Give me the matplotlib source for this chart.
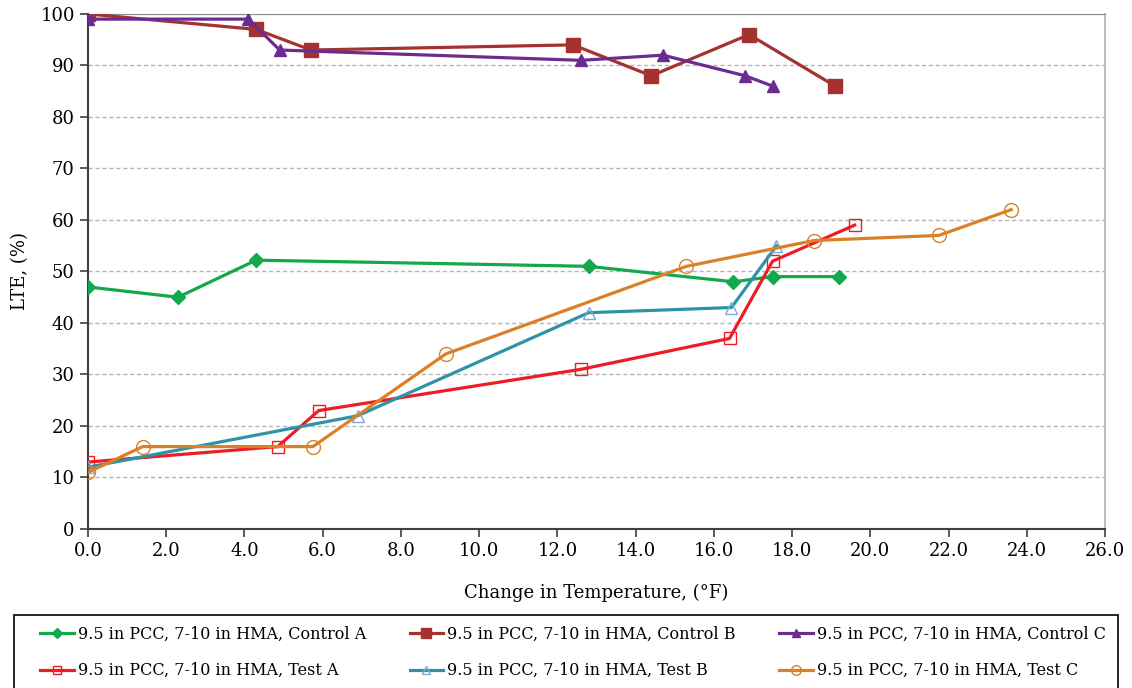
import matplotlib
matplotlib.use("Agg")
import matplotlib.pyplot as plt
from matplotlib.patches import Rectangle

plt.rcParams["font.family"] = ["DejaVu Serif"]

# Change in temperature (F) and LTE (%) per section
ctrl_a_x = [0.0, 2.3, 4.3, 12.8, 16.5, 17.5, 19.2]
ctrl_a_y = [47, 45, 52.2, 51, 48, 49, 49]
ctrl_b_x = [0.0, 4.3, 5.7, 12.4, 14.4, 16.9, 19.1]
ctrl_b_y = [100, 97, 93, 94, 88, 96, 86]
ctrl_c_x = [0.0, 4.1, 4.9, 12.6, 14.7, 16.8, 17.5]
ctrl_c_y = [99, 99, 93, 91, 92, 88, 86]
test_a_x = [0.0, 4.85, 5.9, 12.6, 16.4, 17.5, 19.6]
test_a_y = [13, 16, 23, 31, 37, 52, 59]
test_b_x = [0.0, 6.9, 12.8, 16.45, 17.6]
test_b_y = [12, 22, 42, 43, 55]
test_c_x = [0.0, 1.4, 5.75, 9.15, 15.3, 18.55, 21.75, 23.6]
test_c_y = [11, 16, 16, 34, 51, 56, 57, 62]

labels = ["9.5 in PCC, 7-10 in HMA, Control A", "9.5 in PCC, 7-10 in HMA, Control B",
          "9.5 in PCC, 7-10 in HMA, Control C", "9.5 in PCC, 7-10 in HMA, Test A",
          "9.5 in PCC, 7-10 in HMA, Test B", "9.5 in PCC, 7-10 in HMA, Test C"]
xticks = [i * 2.0 for i in range(14)]
yticks = list(range(0, 101, 10))

fig = plt.figure(figsize=(11.32, 6.88), dpi=100)
ax = fig.add_axes([0.0777, 0.2311, 0.8985, 0.7486])

lw = 2.3
h = []
h += ax.plot(ctrl_a_x, ctrl_a_y, "-D", color="#12a84b", lw=lw, ms=7, label=labels[0], zorder=3)
h += ax.plot(ctrl_b_x, ctrl_b_y, "-s", color="#a5322f", lw=lw, ms=9.5, label=labels[1], zorder=3)
h += ax.plot(ctrl_c_x, ctrl_c_y, "-^", color="#6a2c91", lw=lw, ms=9, label=labels[2], zorder=3)
h += ax.plot(test_a_x, test_a_y, "-s", color="#ee1c25", lw=lw, ms=9, mfc="none",
             mec="#ee1c25", mew=1.0, label=labels[3], zorder=3)
h += ax.plot(test_b_x, test_b_y, "-^", color="#2e93a8", lw=lw, ms=9, mfc="none",
             mec="#7ca7d8", mew=1.0, label=labels[4], zorder=3)
h += ax.plot(test_c_x, test_c_y, "-o", color="#da8127", lw=lw, ms=10, mfc="none",
             mec="#da8127", mew=1.0, label=labels[5], zorder=3)

ax.set_xlim(0, 26)
ax.set_ylim(0, 100)
ax.set_xticks(xticks)
ax.set_xticklabels([f"{v:.1f}" for v in xticks])
ax.set_yticks(yticks)
ax.tick_params(axis="both", labelsize=13, length=6, width=1.2, color="#404040", direction="out")
ax.grid(axis="y", color="#b5b5b5", ls=(0, (3, 2)), lw=1.0, zorder=0)
for s in ("left", "bottom"):
    ax.spines[s].set_color("#404040")
    ax.spines[s].set_linewidth(1.5)
ax.spines["top"].set_color("#8c8c8c")
ax.spines["right"].set_color("#bdbdbd")
ax.spines["right"].set_linewidth(1.5)

ax.set_xlabel("Change in Temperature, (°F)", fontsize=13, labelpad=17)
ax.set_ylabel("LTE, (%)", fontsize=13, labelpad=8)

# legend box drawn separately so it can run off the bottom edge like the original
fig.patches.append(Rectangle((14 / 1132, -0.02), 1104 / 1132, 0.02 + 1 - 615 / 688,
                             transform=fig.transFigure, fill=False, ec="black", lw=1.2))
# legend fills column by column, so interleave to get rows Control / Test
order = [0, 3, 1, 4, 2, 5]
fig.legend([h[i] for i in order], [labels[i] for i in order],
           loc="upper left", bbox_to_anchor=(40 / 1132, 1 - 626 / 688, 1066 / 1132, 0),
           mode="expand", borderaxespad=0, borderpad=0, ncol=3, fontsize=11.5,
           frameon=False, handlelength=2.1, handletextpad=0.25, labelspacing=1.2,
           markerscale=0.7)

fig.savefig("out.png", dpi=100, facecolor="white")
